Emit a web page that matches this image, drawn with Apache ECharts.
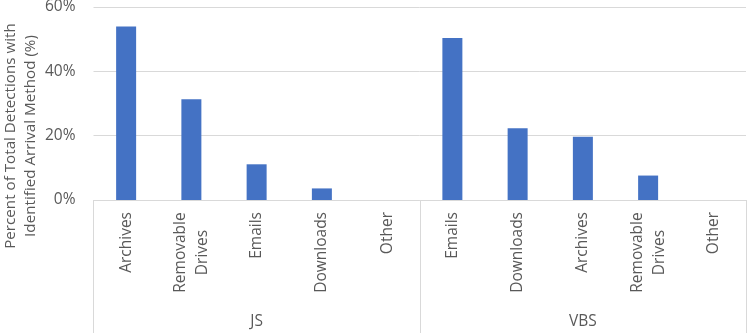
<!DOCTYPE html>
<html>
<head>
<meta charset="utf-8">
<script src="https://cdn.jsdelivr.net/npm/echarts@6/dist/echarts.min.js"></script>
<style>
html,body{margin:0;padding:0;background:#fff;}
#chart{width:747px;height:333px;}
</style>
</head>
<body>
<div id="chart"></div>
<script>
const groups = ['JS', 'VBS'];
const jsCategories = ['Archives', 'Removable\nDrives', 'Emails', 'Downloads', 'Other'];
const jsValues = [53.9, 31.3, 11.1, 3.6, 0];
const vbsCategories = ['Emails', 'Downloads', 'Archives', 'Removable\nDrives', 'Other'];
const vbsValues = [50.4, 22.3, 19.7, 7.6, 0];
const yTicks = [0, 20, 40, 60];

const categories = jsCategories.concat(vbsCategories);
const values = jsValues.concat(vbsValues);

const grey = '#595959';
const lineGrey = '#d9d9d9';
const font = '"Open Sans", sans-serif';
const labelSize = 15.5;

const measureCtx = document.createElement('canvas').getContext('2d');
measureCtx.font = labelSize + 'px "Open Sans"';
function textWidth(s) { return Math.ceil(measureCtx.measureText(s).width); }

const chart = echarts.init(document.getElementById('chart'), null, {renderer: 'canvas'});
chart.setOption({
  animation: false,
  textStyle: {fontFamily: font},
  grid: {left: 93.5, right: 1, top: 7, bottom: 133, containLabel: false, outerBoundsMode: 'none'},
  xAxis: [
    {
      type: 'category',
      data: categories,
      position: 'bottom',
      boundaryGap: true,
      axisLine: {show: true, lineStyle: {color: lineGrey, width: 1}},
      axisTick: {show: false},
      axisLabel: {
        interval: 0,
        rotate: 90,
        margin: 12,
        color: grey,
        fontFamily: font,
        fontSize: labelSize,
        lineHeight: 22,
        formatter: function (v) {
          const lines = v.split('\n');
          if (lines.length === 1) return v;
          const w = Math.max.apply(null, lines.map(textWidth));
          return lines.map(function (s) { return '{c' + w + '|' + s + '}'; }).join('\n');
        },
        rich: (function () {
          const r = {};
          categories.forEach(function (v) {
            const lines = v.split('\n');
            if (lines.length > 1) {
              const w = Math.max.apply(null, lines.map(textWidth));
              r['c' + w] = {width: w, align: 'center', color: grey, fontFamily: font, fontSize: labelSize, lineHeight: 22};
            }
          });
          return r;
        })()
      }
    },
    {
      type: 'category',
      data: groups,
      position: 'bottom',
      boundaryGap: true,
      axisLine: {show: false},
      axisTick: {show: true, length: 133, lineStyle: {color: lineGrey, width: 1}},
      axisLabel: {margin: 114, color: grey, fontFamily: font, fontSize: labelSize}
    }
  ],
  yAxis: {
    type: 'value',
    min: yTicks[0],
    max: yTicks[yTicks.length - 1],
    interval: 20,
    axisLine: {show: false},
    axisTick: {show: false},
    splitLine: {show: true, lineStyle: {color: lineGrey, width: 1}},
    axisLabel: {margin: 18, color: grey, fontFamily: font, fontSize: labelSize, formatter: '{value}%'},
    name: 'Percent of Total Detections with\nIdentified Arrival Method (%)',
    nameLocation: 'middle',
    nameRotate: 90,
    nameGap: 53,
    nameMoveOverlap: false,
    nameTextStyle: {color: grey, fontFamily: font, fontSize: 15.2, lineHeight: 20, align: 'center', padding: [0, 65, 0, 0]}
  },
  series: [{
    type: 'bar',
    xAxisIndex: 0,
    data: values,
    barWidth: 20,
    itemStyle: {color: '#4472C4'}
  }]
});
</script>
</body>
</html>
